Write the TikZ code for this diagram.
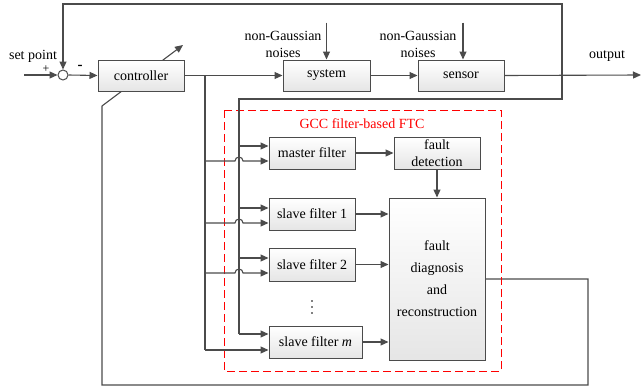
\documentclass[tikz,border=0pt]{standalone}
\usepackage{fontspec}
\setmainfont{Liberation Serif}
\usetikzlibrary{arrows.meta, positioning, shadows, backgrounds, calc}
\definecolor{mygray}{RGB}{75,75,75}
\definecolor{myred}{RGB}{255,0,0}

\tikzset{
  blockbox/.style={draw=mygray, line width=1pt, top color=white, bottom color=gray!20,
    drop shadow={shadow xshift=1.2pt, shadow yshift=-1.2pt, opacity=0.3},
    minimum width=86pt, minimum height=32pt, inner sep=1pt},
  wire/.style={draw=mygray, line width=1.1pt},
  link/.style={wire, -{Triangle[length=8pt,width=7pt]}},
}

\begin{document}
\begin{tikzpicture}[x=1pt, y=-1pt, font=\fontsize{14}{16}\selectfont]
    \useasboundingbox (0,0) rectangle (641,388);

    % summing junction and forward path
    \node[draw=mygray,line width=1pt,circle,minimum size=10pt,inner sep=0pt] (sum) at (63,75) {};
    \node[blockbox,minimum height=31pt] (controller) at (141,75.5) {controller};
    \node[blockbox,minimum width=87pt,minimum height=31pt] (system) at (326.5,75.5) {system};
    \node[blockbox,minimum height=31pt] (sensor) at (461,75.5) {sensor};

    \node (setpoint) at (33,56) {set point};
    \node[font=\fontsize{12}{13}\selectfont] (plus) at (46,69) {+};
    \node[font=\fontsize{15}{16}\selectfont\bfseries] (minus) at (80,67) {-};
    \node (output) at (607,56) {output};
    \node[align=center,font=\fontsize{14}{17}\selectfont] (noise1) at (283,44) {non-Gaussian\\noises};
    \node[align=center,font=\fontsize{14}{17}\selectfont] (noise2) at (418,44) {non-Gaussian\\noises};

    % GCC filter-based FTC
    \draw[myred,line width=1pt,dash pattern=on 8pt off 4pt] (224,110) rectangle (501,371);
    \node[myred] (ftc) at (362,124) {GCC filter-based FTC};

    \node[blockbox] (master) at (312,153) {master filter};
    \node[blockbox] (slave1) at (312,214) {slave filter 1};
    \node[blockbox,minimum height=33pt] (slave2) at (312,264.5) {slave filter 2};
    \foreach \k in {0,1,2}
        \fill[black] (312,301+6*\k) circle (0.9pt);
    \node[blockbox,minimum width=93pt] (slavem) at (315.5,342) {slave filter \textit{m}};
    \node[blockbox,align=center,font=\fontsize{14}{17}\selectfont] (detection) at (437,153) {fault\\detection};
    \node[blockbox,minimum width=96pt,minimum height=162pt,align=center,font=\fontsize{14}{22}\selectfont] (diagnosis) at (437,279) {fault\\diagnosis\\and\\reconstruction};

    % split points and filter inputs
    \coordinate (in) at (24,75);
    \coordinate (out) at (641,75);
    \coordinate (fbsplit) at (562,75);
    \coordinate (ctrlsplit) at (205,75);
    \coordinate (trunk) at (239,99);
    \foreach \blk/\up/\dn in {master/7/8, slave1/6/9, slave2/6.5/8.5, slavem/8/8} {
        \coordinate (\blk-y) at ([yshift=\up pt]\blk.west);
        \coordinate (\blk-u) at ([yshift=-\dn pt]\blk.west);
    }

    % forward path
    \draw[link] (in) -- (sum.west);
    \draw[link] (sum.east) -- (controller.west);
    \draw[link] (controller.east) -- (system.west);
    \draw[link] (system.east) -- (sensor.west);
    \draw[link] (sensor.east) -- (out);
    \draw[link] ([yshift=37pt]system.north) -- (system.north);
    \draw[link] ([xshift=2pt,yshift=37pt]sensor.north) -- ([xshift=2pt]sensor.north);

    % measured output back to the junction and to the filters
    \draw[link] (fbsplit) -- (562,4) -| (sum.north);
    \draw[wire] (fbsplit) -- (562,99) -- (trunk) -- (trunk |- slavem-y);
    \foreach \blk in {master, slave1, slave2, slavem}
        \draw[link] (trunk |- \blk-y) -- (\blk-y);

    % control input to the filters (hops over the trunk)
    \draw[wire] (ctrlsplit) -- (ctrlsplit |- slavem-u);
    \foreach \blk in {master, slave1, slave2}
        \draw[link] (ctrlsplit |- \blk-u) -- ([xshift=-4pt]trunk |- \blk-u)
            arc[start angle=180,end angle=0,radius=4pt] -- (\blk-u);
    \draw[link] (ctrlsplit |- slavem-u) -- (slavem-u);

    % filter bank to diagnosis
    \draw[link] (master.east) -- (detection.west);
    \draw[link] (detection.south) -- (diagnosis.north);
    \draw[link] (slave1.east) -- (diagnosis.west |- slave1.east);
    \draw[link] (slave2.east) -- (diagnosis.west |- slave2.east);
    \draw[link] (slavem.east) -- (diagnosis.west |- slavem.east);

    % reconstruction back to the controller
    \begin{scope}[on background layer]
        \draw[link] (diagnosis.east) -- (588,279) -- (588,385) -- (102,385) -- (102,106) -- (183,45);
    \end{scope}
\end{tikzpicture}
\end{document}
